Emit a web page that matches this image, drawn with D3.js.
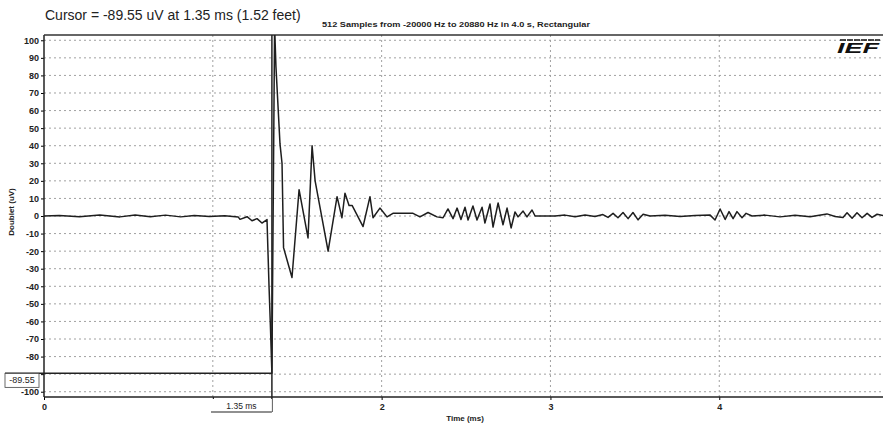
<!DOCTYPE html>
<html>
<head>
<meta charset="utf-8">
<script src="https://cdn.jsdelivr.net/npm/d3@7"></script>
<style>
  body { margin: 0; background: #fff; }
  svg { display: block; font-family: "Liberation Sans", Arial, sans-serif; }
</style>
</head>
<body>
<div id="chart"></div>
<script>
// waveform (time in ms, doublet in uV)
var timeMs = [0, 0.09, 0.21, 0.33, 0.45, 0.54, 0.63, 0.72, 0.81, 0.89, 0.98, 1.07, 1.15,
  1.161, 1.203, 1.232, 1.262, 1.291, 1.321, 1.333, 1.342, 1.35, 1.366, 1.374, 1.398, 1.41,
  1.419, 1.469, 1.511, 1.564, 1.588, 1.606, 1.683, 1.736, 1.765, 1.783, 1.807, 1.825, 1.89,
  1.931, 1.949, 1.99, 2.032, 2.067, 2.127, 2.186, 2.227, 2.275, 2.328, 2.364, 2.393, 2.423,
  2.447, 2.47, 2.494, 2.512, 2.541, 2.565, 2.595, 2.612, 2.642, 2.66, 2.69, 2.719, 2.743,
  2.767, 2.79, 2.808, 2.838, 2.861, 2.891, 2.909, 3.027, 3.086, 3.146, 3.205, 3.264, 3.311,
  3.341, 3.371, 3.4, 3.43, 3.46, 3.489, 3.519, 3.549, 3.59, 3.679, 3.768, 3.857, 3.946,
  3.975, 4.005, 4.035, 4.058, 4.082, 4.105, 4.135, 4.159, 4.194, 4.271, 4.36, 4.449, 4.538,
  4.638, 4.686, 4.733, 4.757, 4.787, 4.816, 4.846, 4.876, 4.905, 4.935, 4.97];
var doubletUv = [0, 0.3, -0.4, 0.5, -0.5, 0.6, -0.4, 0.5, -0.5, 0.3, -0.3, 0.2, -0.5,
  -1.9, -0.4, -2.7, -1.5, -4, -2, -40, -65, -89.55, 108, 85, 41, 30,
  -18, -35, 15, -12.5, 40, 20, -20, 11, -1, 13, 6, 6, -6,
  11, -1, 4.5, -0.5, 1.5, 1.5, 1.5, -0.5, 2, -0.5, -1, 4, -1.5,
  4.5, -2, 5, -2.3, 5.7, -2.3, 5, -4, 6.8, -6.3, 7.4, -5, 4.5,
  -6.8, 2.3, -0.5, 2.8, -0.5, 3.4, 0, 0, 0.5, -0.4, 0.6, -0.3, 0.8,
  -0.8, 1.5, -1, 2, -1.5, 2, -2.2, 1, 0, 0.4, -0.3, 0.3, 0.5,
  -2.3, 4, -2, 2.5, -1.5, 2.5, -1, 1.5, 0, 0.5, -0.5, 0.4, -0.4,
  1.2, -0.3, -0.8, 1.8, -1.3, 1.8, -1, 1.5, -0.8, 1, 0.3];

var yTicks = [100, 90, 80, 70, 60, 50, 40, 30, 20, 10, 0, -10, -20, -30, -40, -50, -60, -70, -80, -90, -100];
var xTicks = [0, 1, 2, 3, 4];
var xTickLabels = ["0", "1", "2", "3", "4"];
var cursorTime = 1.35, cursorValue = -89.55;

var width = 883, height = 423;
var plotLeft = 44, plotRight = 883, plotTop = 35, plotBottom = 397;

var svg = d3.select("#chart").append("svg")
  .attr("width", width)
  .attr("height", height);

var x = d3.scaleLinear().domain([0, 4.97]).range([plotLeft, plotRight]);
var y = d3.scaleLinear().domain([-103, 103]).range([plotBottom, plotTop]);

//grid
svg.append("g").selectAll("line").data(yTicks).join("line")
  .attr("x1", plotLeft).attr("x2", plotRight)
  .attr("y1", d => y(d)).attr("y2", d => y(d))
  .attr("stroke", "#a0a0a0").attr("stroke-width", 1)
  .attr("stroke-dasharray", "2,3");
svg.append("g").selectAll("line").data(xTicks.slice(1)).join("line")
  .attr("x1", d => x(d)).attr("x2", d => x(d))
  .attr("y1", plotTop).attr("y2", plotBottom)
  .attr("stroke", "#a0a0a0").attr("stroke-width", 1)
  .attr("stroke-dasharray", "2,3");

//axes (the -90 label sits under the cursor value box)
var yAxis = d3.axisLeft(y).tickValues(yTicks).tickSize(3).tickPadding(2)
  .tickFormat(d => d === -90 ? "" : d);
var gy = svg.append("g").attr("transform", "translate(" + plotLeft + ",0)").call(yAxis);
gy.select(".domain").remove();
gy.selectAll("text").attr("font-size", 9).attr("font-weight", "bold").attr("fill", "#222")
  .attr("font-family", "Liberation Sans, Arial, sans-serif");

var xAxis = d3.axisBottom(x).tickValues(xTicks)
  .tickFormat((d, i) => d === 1 ? "" : xTickLabels[i]).tickSize(3).tickPadding(4);
var gx = svg.append("g").attr("transform", "translate(0," + plotBottom + ")").call(xAxis);
gx.select(".domain").remove();
gx.selectAll("text").attr("font-size", 9).attr("font-weight", "bold").attr("fill", "#222")
  .attr("font-family", "Liberation Sans, Arial, sans-serif");

//frame
svg.append("line").attr("x1", plotLeft).attr("x2", plotLeft).attr("y1", plotTop).attr("y2", plotBottom)
  .attr("stroke", "#222").attr("stroke-width", 1.5);
svg.append("line").attr("x1", plotLeft).attr("x2", plotRight).attr("y1", plotTop).attr("y2", plotTop)
  .attr("stroke", "#333").attr("stroke-width", 1.5);
svg.append("line").attr("x1", plotLeft).attr("x2", plotRight).attr("y1", plotBottom).attr("y2", plotBottom)
  .attr("stroke", "#222").attr("stroke-width", 1.5);

//trace
svg.append("clipPath").attr("id", "plotclip").append("rect")
  .attr("x", plotLeft).attr("y", plotTop).attr("width", plotRight - plotLeft).attr("height", plotBottom - plotTop);
var line = d3.line().x((d, i) => x(timeMs[i])).y(d => y(d));
svg.append("path").datum(doubletUv)
  .attr("d", line)
  .attr("clip-path", "url(#plotclip)")
  .attr("fill", "none").attr("stroke", "#1e1e1e").attr("stroke-width", 1.5)
  .attr("stroke-linejoin", "round");

//cursor
var cx = x(cursorTime), cy = y(cursorValue);
svg.append("line").attr("x1", cx).attr("x2", cx).attr("y1", plotTop).attr("y2", 412)
  .attr("stroke", "#222").attr("stroke-width", 1.5);
svg.append("line").attr("x1", 5).attr("x2", cx).attr("y1", cy).attr("y2", cy)
  .attr("stroke", "#222").attr("stroke-width", 1.5);
svg.append("rect").attr("x", 5).attr("y", cy).attr("width", 34).attr("height", 14)
  .attr("fill", "#fff").attr("stroke", "#444").attr("stroke-width", 0.8);
svg.append("text").attr("x", 22).attr("y", cy + 10).attr("text-anchor", "middle")
  .attr("font-size", 9).attr("fill", "#222").text(cursorValue.toFixed(2));
svg.append("rect").attr("x", 211).attr("y", 399).attr("width", cx - 211).attr("height", 13)
  .attr("fill", "#fff");
svg.append("line").attr("x1", 211).attr("x2", cx).attr("y1", 412).attr("y2", 412)
  .attr("stroke", "#222").attr("stroke-width", 1.2);
svg.append("text").attr("x", (211 + cx) / 2).attr("y", 409).attr("text-anchor", "middle")
  .attr("font-size", 8.5).attr("fill", "#222").text(cursorTime.toFixed(2) + " ms");

//titles
svg.append("text").attr("x", 45).attr("y", 20).attr("font-size", 14).attr("fill", "#222")
  .text("Cursor = " + cursorValue + " uV at " + cursorTime + " ms (1.52 feet)");
svg.append("text").attr("x", 322).attr("y", 27).attr("font-size", 7.5).attr("font-weight", "bold")
  .attr("fill", "#222").attr("textLength", 268).attr("lengthAdjust", "spacingAndGlyphs")
  .text("512 Samples from -20000 Hz to 20880 Hz in 4.0 s, Rectangular");
svg.append("text").attr("transform", "translate(14,212) rotate(-90)").attr("text-anchor", "middle")
  .attr("font-size", 8).attr("font-weight", "bold").attr("fill", "#222").text("Doublet (uV)");
svg.append("text").attr("x", 465).attr("y", 421).attr("text-anchor", "middle")
  .attr("font-size", 8).attr("font-weight", "bold").attr("fill", "#222").text("Time (ms)");

//logo
svg.append("line").attr("x1", 840).attr("x2", 880).attr("y1", 40).attr("y2", 40)
  .attr("stroke", "#111").attr("stroke-width", 1.5).attr("stroke-dasharray", "6,1");
svg.append("text").attr("x", 879).attr("y", 53).attr("text-anchor", "end")
  .attr("font-size", 15).attr("font-weight", "bold").attr("font-style", "italic")
  .attr("fill", "#111").attr("textLength", 42).attr("lengthAdjust", "spacingAndGlyphs")
  .text("IEF");
</script>
</body>
</html>
